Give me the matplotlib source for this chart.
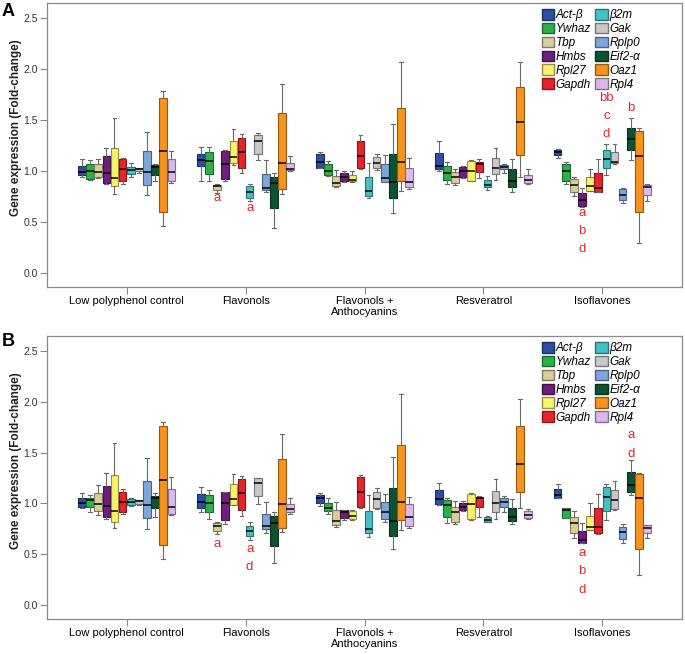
import numpy as np
import matplotlib
matplotlib.use("Agg")
import matplotlib.pyplot as plt
from matplotlib.patches import Patch
from matplotlib.colors import to_rgb

plt.rcParams['font.family'] = ['Liberation Sans', 'DejaVu Sans']

groups = ["Low polyphenol control", "Flavonols", "Flavonols +\nAnthocyanins",
          "Resveratrol", "Isoflavones"]
genes = ["Act-β", "Ywhaz", "Tbp", "Hmbs", "Rpl27", "Gapdh",
         "β2m", "Gak", "Rplp0", "Eif2-α", "Oaz1", "Rpl4"]
colors = ["#2f4ea2", "#2bb04a", "#d5cf9c", "#6c1f7c", "#f8f36c", "#e5242b",
          "#46c1c3", "#c8c8c8", "#7fa6d9", "#0e5232", "#f5941f", "#dbb9ec"]

# panel A: rows = genes, columns = groups
a_lo = [[0.94, 0.90, 1.03, 1.00, 1.13], [0.91, 0.90, 0.95, 0.87, 0.87],
        [0.93, 0.78, 0.84, 0.86, 0.75], [0.87, 0.90, 0.89, 0.93, 0.65],
        [0.77, 1.06, 0.89, 0.90, 0.80], [0.87, 0.98, 1.02, 0.93, 0.79],
        [0.94, 0.70, 0.73, 0.81, 0.96], [0.98, 1.11, 1.01, 0.91, 1.07],
        [0.76, 0.79, 0.89, 0.98, 0.69], [0.90, 0.44, 0.59, 0.79, 1.11],
        [0.46, 0.77, 0.80, 0.94, 0.29], [0.88, 1.00, 0.82, 0.87, 0.70]]
a_q1 = [[0.96, 1.05, 1.03, 1.02, 1.16], [0.92, 0.97, 0.96, 0.91, 0.90],
        [0.94, 0.81, 0.85, 0.88, 0.79], [0.88, 0.92, 0.90, 0.94, 0.66],
        [0.85, 1.08, 0.90, 0.90, 0.80], [0.90, 1.03, 1.03, 0.99, 0.79],
        [0.97, 0.73, 0.75, 0.84, 1.03], [1.00, 1.17, 1.03, 0.97, 1.08],
        [0.86, 0.81, 0.89, 1.02, 0.71], [0.96, 0.64, 0.73, 0.84, 1.21],
        [0.60, 0.82, 0.90, 1.16, 0.60], [0.90, 1.01, 0.84, 0.88, 0.76]]
a_med = [[0.99, 1.11, 1.09, 1.05, 1.19], [1.00, 1.10, 1.00, 0.98, 1.00],
         [0.99, 0.85, 0.88, 0.94, 0.86], [0.98, 1.07, 0.94, 1.00, 0.71],
         [0.93, 1.14, 0.91, 1.00, 0.85], [1.02, 1.19, 1.15, 1.07, 0.83],
         [1.01, 0.79, 0.80, 0.86, 1.12], [1.02, 1.29, 1.08, 1.03, 1.09],
         [0.99, 0.83, 0.93, 1.04, 0.76], [1.04, 0.88, 0.89, 0.90, 1.31],
         [1.20, 1.08, 1.09, 1.48, 1.15], [0.99, 1.02, 0.89, 0.91, 0.84]]
a_q3 = [[1.05, 1.17, 1.17, 1.18, 1.21], [1.065, 1.19, 1.07, 1.05, 1.07],
        [1.07, 0.86, 0.95, 0.99, 0.92], [1.15, 1.20, 0.98, 1.04, 0.78],
        [1.23, 1.29, 0.96, 1.10, 0.94], [1.12, 1.32, 1.29, 1.09, 0.98],
        [1.04, 0.85, 0.94, 0.91, 1.21], [1.03, 1.35, 1.14, 1.13, 1.19],
        [1.20, 0.97, 1.07, 1.06, 0.82], [1.06, 0.94, 1.17, 1.02, 1.42],
        [1.72, 1.57, 1.62, 1.82, 1.39], [1.12, 1.08, 1.03, 0.96, 0.86]]
a_hi = [[1.12, 1.24, 1.19, 1.29, 1.22], [1.11, 1.24, 1.10, 1.09, 1.09],
        [1.12, 0.87, 1.01, 1.02, 0.94], [1.23, 1.21, 1.00, 1.05, 0.83],
        [1.52, 1.41, 1.00, 1.11, 1.02], [1.13, 1.36, 1.35, 1.12, 1.12],
        [1.08, 0.87, 1.08, 0.95, 1.26], [1.03, 1.37, 1.17, 1.23, 1.26],
        [1.38, 1.11, 1.16, 1.07, 0.83], [1.07, 0.98, 1.46, 1.12, 1.52],
        [1.79, 1.85, 2.07, 2.07, 1.42], [1.20, 1.15, 1.13, 1.02, 0.87]]

# panel B
b_lo = [[0.95, 0.91, 0.97, 0.98, 1.05], [0.91, 0.85, 0.90, 0.81, 0.86],
        [0.89, 0.70, 0.77, 0.80, 0.66], [0.85, 0.80, 0.84, 0.92, 0.61],
        [0.76, 0.98, 0.84, 0.84, 0.74], [0.90, 0.88, 0.95, 0.87, 0.70],
        [0.97, 0.64, 0.67, 0.82, 0.84], [0.98, 0.99, 0.94, 0.85, 0.93],
        [0.75, 0.71, 0.82, 0.91, 0.61], [0.87, 0.41, 0.55, 0.80, 1.08],
        [0.45, 0.72, 0.74, 0.95, 0.29], [0.89, 0.90, 0.76, 0.85, 0.66]]
b_q1 = [[0.96, 0.95, 1.00, 0.99, 1.05], [0.96, 0.91, 0.92, 0.87, 0.86],
        [0.92, 0.73, 0.79, 0.82, 0.71], [0.87, 0.84, 0.86, 0.93, 0.61],
        [0.82, 0.98, 0.85, 0.85, 0.74], [0.91, 0.93, 0.96, 0.96, 0.71],
        [0.98, 0.68, 0.71, 0.82, 0.92], [0.99, 1.07, 0.95, 0.91, 0.94],
        [0.86, 0.75, 0.85, 0.96, 0.65], [0.95, 0.58, 0.68, 0.83, 1.11],
        [0.59, 0.76, 0.84, 1.11, 0.55], [0.90, 0.91, 0.78, 0.86, 0.71]]
b_med = [[1.00, 1.01, 1.05, 1.04, 1.08], [1.03, 1.00, 0.95, 0.98, 0.93],
         [0.99, 0.78, 0.83, 0.91, 0.81], [0.97, 1.00, 0.91, 0.96, 0.64],
         [0.92, 1.04, 0.88, 0.99, 0.77], [1.01, 1.10, 1.11, 1.05, 0.77],
         [1.01, 0.73, 0.75, 0.84, 1.06], [1.02, 1.20, 1.04, 1.00, 1.03],
         [0.98, 0.78, 0.91, 1.01, 0.72], [1.05, 0.81, 0.83, 0.87, 1.18],
         [1.23, 0.99, 1.01, 1.39, 1.05], [0.96, 0.94, 0.87, 0.89, 0.76]]
b_q3 = [[1.05, 1.09, 1.08, 1.13, 1.14], [1.05, 1.08, 1.00, 1.03, 0.95],
        [1.10, 0.81, 0.93, 0.96, 0.87], [1.17, 1.11, 0.93, 1.00, 0.73],
        [1.28, 1.19, 0.92, 1.09, 0.88], [1.11, 1.24, 1.26, 1.06, 0.95],
        [1.04, 0.78, 0.92, 0.87, 1.16], [1.03, 1.25, 1.11, 1.12, 1.13],
        [1.22, 0.90, 1.01, 1.05, 0.77], [1.07, 0.88, 1.15, 0.95, 1.31],
        [1.76, 1.44, 1.58, 1.76, 1.29], [1.14, 0.99, 0.99, 0.92, 0.79]]
b_hi = [[1.10, 1.16, 1.10, 1.20, 1.19], [1.08, 1.13, 1.05, 1.05, 0.95],
        [1.18, 0.82, 1.01, 1.02, 0.92], [1.30, 1.11, 0.93, 1.02, 0.81],
        [1.60, 1.29, 0.93, 1.10, 1.00], [1.14, 1.27, 1.28, 1.07, 1.09],
        [1.05, 0.82, 1.08, 0.88, 1.19], [1.03, 1.25, 1.15, 1.24, 1.22],
        [1.45, 1.01, 1.09, 1.07, 0.80], [1.10, 0.91, 1.46, 1.04, 1.43],
        [1.80, 1.68, 2.08, 2.03, 1.30], [1.26, 1.05, 1.06, 0.94, 0.79]]

# significance letters: (group, gene, letters top->down, value of first letter)
a_letters = [(1, 2, ["a"], 0.73), (1, 6, ["a"], 0.64),
             (4, 3, ["a", "b", "d"], 0.59), (4, 6, ["bb", "c", "d"], 1.72),
             (4, 9, ["b"], 1.62)]
b_letters = [(1, 2, ["a"], 0.595), (1, 6, ["a", "d"], 0.55),
             (4, 3, ["a", "b", "d"], 0.51), (4, 9, ["a", "d"], 1.67)]

W, H = 685, 654
fig = plt.figure(figsize=(W / 100, H / 100), dpi=100)

step = 0.0683
box_w = 0.064


def darker(c, f=0.6):
    r, g, b = to_rgb(c)
    return (r * f, g * f, b * f)


def draw_panel(rect, lo, q1, med, q3, hi, letters):
    ax = fig.add_axes(rect)
    for i, gene in enumerate(genes):
        stats = []
        for g in range(len(groups)):
            stats.append(dict(whislo=lo[i][g], q1=q1[i][g], med=med[i][g],
                              q3=q3[i][g], whishi=hi[i][g], fliers=[]))
        pos = [g + (i - 5.5) * step for g in range(len(groups))]
        ax.bxp(stats, positions=pos, widths=box_w, patch_artist=True,
               showfliers=False, manage_ticks=False,
               boxprops=dict(facecolor=colors[i], edgecolor=darker(colors[i]), linewidth=0.8),
               medianprops=dict(color="black", linewidth=1.1),
               whiskerprops=dict(color="#6a6a6a", linewidth=0.8),
               capprops=dict(color="#6a6a6a", linewidth=0.8))
    for g, i, labs, top in letters:
        x = g + (i - 5.5) * step
        for k, t in enumerate(labs):
            ax.text(x, top - k * 0.18, t, color="#e8262d", fontsize=9.5,
                    ha="center", va="center")

    ax.set_xlim(-0.67, 4.67)
    ax.set_ylim(-0.14, 2.65)
    ax.set_xticks(range(len(groups)))
    ax.set_xticklabels(groups, fontsize=8, linespacing=1.1)
    ax.set_yticks([0.0, 0.5, 1.0, 1.5, 2.0, 2.5])
    ax.set_yticklabels(["0.0", "0.5", "1.0", "1.5", "2.0", "2.5"], fontsize=7.5, color="#333333")
    for s in ax.spines.values():
        s.set_color("#8a8a8a")
        s.set_linewidth(0.9)
    ax.tick_params(axis="both", direction="out", length=5, width=0.8,
                   color="#8a8a8a", pad=1.5)
    ax.set_ylabel("Gene expression (Fold-change)", fontsize=8.5, fontweight="bold",
                  color="#222222")
    ax.yaxis.set_label_coords(-0.039, 0.56)

    handles = [Patch(facecolor=c, edgecolor=darker(c), label=n) for c, n in zip(colors, genes)]
    ax.legend(handles=handles, loc="upper left", bbox_to_anchor=(0.766, 1.008),
              ncol=2, frameon=False, prop=dict(style="italic", size=8.5),
              handlelength=1.05, handleheight=1.0, handletextpad=0.15,
              columnspacing=0.35, labelspacing=0.13, borderpad=0.2)
    return ax


axA = draw_panel([47 / W, 1 - 287 / H, 635 / W, 284 / H],
                 a_lo, a_q1, a_med, a_q3, a_hi, a_letters)
axB = draw_panel([47 / W, 1 - 619 / H, 635 / W, 283 / H],
                 b_lo, b_q1, b_med, b_q3, b_hi, b_letters)

fig.text(2 / W, 1 - 3 / H, "A", fontsize=13, fontweight="bold", va="top", ha="left")
fig.text(2 / W, 1 - 333 / H, "B", fontsize=13, fontweight="bold", va="top", ha="left")

fig.savefig("out.png", dpi=100, facecolor="white")
